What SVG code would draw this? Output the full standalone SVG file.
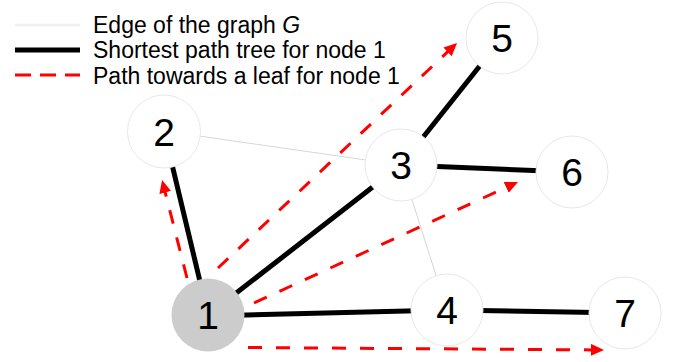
<svg xmlns="http://www.w3.org/2000/svg" width="677" height="362" viewBox="0 0 677 362">
<style>
.lbl{font-family:"Liberation Sans",Arial,sans-serif;font-size:23px;fill:#000}
.num{font-family:"Liberation Sans",Arial,sans-serif;font-size:39px;fill:#000;text-anchor:middle}
.node{fill:#fff;stroke:#e8e8e8;stroke-width:1}
.tree{stroke:#000;stroke-width:5;fill:none}
.thin{stroke:#d6d6d6;stroke-width:1;fill:none}
.leaf{stroke:#ff0000;stroke-width:3;fill:none;stroke-dasharray:14 14}
</style>
<defs>
<marker id="ah" viewBox="0 -6 13 12" markerWidth="13" markerHeight="12" refX="1" refY="0" orient="auto" markerUnits="userSpaceOnUse">
<path d="M0,-6 L13,0 L0,6 z" fill="#ff0000"/>
</marker>
</defs>
<rect width="677" height="362" fill="#fff"/>
<g id="legend">
<line x1="15" y1="25" x2="80" y2="25" stroke="#eeeeee" stroke-width="2.5"/>
<line x1="15" y1="50" x2="80" y2="50" stroke="#000" stroke-width="5"/>
<line x1="15" y1="75" x2="80" y2="75" stroke="#ff0000" stroke-width="3" stroke-dasharray="16 9"/>
<text class="lbl" x="93" y="33">Edge of the graph <tspan font-style="italic">G</tspan></text>
<text class="lbl" x="93" y="58">Shortest path tree for node 1</text>
<text class="lbl" x="93" y="84">Path towards a leaf for node 1</text>
</g>
<g id="connectors">
<line class="thin" x1="164" y1="131" x2="401" y2="165"/>
<line class="thin" x1="401" y1="165" x2="447" y2="310"/>
<line class="tree" x1="208" y1="315" x2="164" y2="131"/>
<line class="tree" x1="208" y1="315" x2="401" y2="165"/>
<line class="tree" x1="208" y1="316" x2="447" y2="310"/>
<line class="tree" x1="401" y1="165" x2="502" y2="38"/>
<line class="tree" x1="401" y1="165" x2="572" y2="172"/>
<line class="tree" x1="447" y1="310" x2="625" y2="313"/>
<path class="leaf" d="M187,278 L165,191.6" marker-end="url(#ah)"/>
<path class="leaf" d="M218,268 L448.3,51.2" marker-end="url(#ah)"/>
<path class="leaf" d="M254,303 L507.1,187" marker-end="url(#ah)"/>
<path class="leaf" d="M248,347.5 L592,349.9" marker-end="url(#ah)"/>
</g>
<g id="node1"><circle cx="208" cy="315" r="36.5" fill="#cccccc"/><text class="num" x="208" y="329">1</text></g>
<g id="node2"><circle class="node" cx="164" cy="131.5" r="36.5"/><text class="num" x="164" y="145.5">2</text></g>
<g id="node3"><circle class="node" cx="401" cy="165" r="36"/><text class="num" x="401" y="179">3</text></g>
<g id="node4"><circle class="node" cx="447" cy="310" r="36"/><text class="num" x="447" y="324">4</text></g>
<g id="node5"><circle class="node" cx="502" cy="38" r="36"/><text class="num" x="502" y="52">5</text></g>
<g id="node6"><circle class="node" cx="572" cy="172" r="36"/><text class="num" x="572" y="186">6</text></g>
<g id="node7"><circle class="node" cx="625" cy="313" r="36"/><text class="num" x="625" y="327">7</text></g>
</svg>
